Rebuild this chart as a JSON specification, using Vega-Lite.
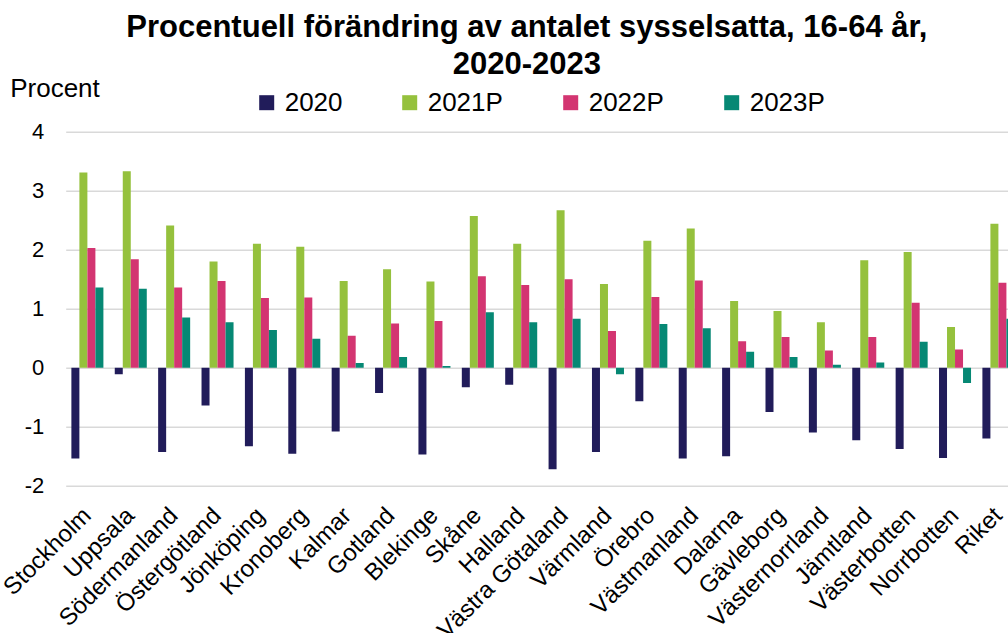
{
  "$schema": "https://vega.github.io/schema/vega-lite/v6.json",
  "autosize": {"type": "none"},
  "width": 942.3,
  "height": 354,
  "padding": {"left": 65.7, "top": 131.7, "right": 0, "bottom": 147.3},
  "background": "white",
  "config": {"view": {"stroke": null}, "font": "Liberation Sans"},
  "title": {
    "text": ["Procentuell förändring av antalet sysselsatta, 16-64 år,", "2020-2023"],
    "fontSize": 31,
    "fontWeight": "bold",
    "font": "Liberation Sans",
    "color": "#000000",
    "anchor": "middle",
    "frame": "group",
    "lineHeight": 37,
    "baseline": "alphabetic",
    "dx": -10,
    "dy": 39,
    "offset": 10
  },
  "data": {
    "values": [
      {"region": "Stockholm", "series": "2020", "value": -1.54},
      {"region": "Stockholm", "series": "2021P", "value": 3.31},
      {"region": "Stockholm", "series": "2022P", "value": 2.03},
      {"region": "Stockholm", "series": "2023P", "value": 1.36},
      {"region": "Uppsala", "series": "2020", "value": -0.11},
      {"region": "Uppsala", "series": "2021P", "value": 3.33},
      {"region": "Uppsala", "series": "2022P", "value": 1.84},
      {"region": "Uppsala", "series": "2023P", "value": 1.34},
      {"region": "Södermanland", "series": "2020", "value": -1.43},
      {"region": "Södermanland", "series": "2021P", "value": 2.41},
      {"region": "Södermanland", "series": "2022P", "value": 1.36},
      {"region": "Södermanland", "series": "2023P", "value": 0.85},
      {"region": "Östergötland", "series": "2020", "value": -0.64},
      {"region": "Östergötland", "series": "2021P", "value": 1.8},
      {"region": "Östergötland", "series": "2022P", "value": 1.47},
      {"region": "Östergötland", "series": "2023P", "value": 0.77},
      {"region": "Jönköping", "series": "2020", "value": -1.33},
      {"region": "Jönköping", "series": "2021P", "value": 2.1},
      {"region": "Jönköping", "series": "2022P", "value": 1.18},
      {"region": "Jönköping", "series": "2023P", "value": 0.64},
      {"region": "Kronoberg", "series": "2020", "value": -1.46},
      {"region": "Kronoberg", "series": "2021P", "value": 2.05},
      {"region": "Kronoberg", "series": "2022P", "value": 1.19},
      {"region": "Kronoberg", "series": "2023P", "value": 0.49},
      {"region": "Kalmar", "series": "2020", "value": -1.08},
      {"region": "Kalmar", "series": "2021P", "value": 1.47},
      {"region": "Kalmar", "series": "2022P", "value": 0.54},
      {"region": "Kalmar", "series": "2023P", "value": 0.08},
      {"region": "Gotland", "series": "2020", "value": -0.43},
      {"region": "Gotland", "series": "2021P", "value": 1.67},
      {"region": "Gotland", "series": "2022P", "value": 0.75},
      {"region": "Gotland", "series": "2023P", "value": 0.18},
      {"region": "Blekinge", "series": "2020", "value": -1.47},
      {"region": "Blekinge", "series": "2021P", "value": 1.46},
      {"region": "Blekinge", "series": "2022P", "value": 0.79},
      {"region": "Blekinge", "series": "2023P", "value": 0.03},
      {"region": "Skåne", "series": "2020", "value": -0.33},
      {"region": "Skåne", "series": "2021P", "value": 2.57},
      {"region": "Skåne", "series": "2022P", "value": 1.55},
      {"region": "Skåne", "series": "2023P", "value": 0.94},
      {"region": "Halland", "series": "2020", "value": -0.29},
      {"region": "Halland", "series": "2021P", "value": 2.1},
      {"region": "Halland", "series": "2022P", "value": 1.4},
      {"region": "Halland", "series": "2023P", "value": 0.77},
      {"region": "Västra Götaland", "series": "2020", "value": -1.72},
      {"region": "Västra Götaland", "series": "2021P", "value": 2.67},
      {"region": "Västra Götaland", "series": "2022P", "value": 1.5},
      {"region": "Västra Götaland", "series": "2023P", "value": 0.83},
      {"region": "Värmland", "series": "2020", "value": -1.43},
      {"region": "Värmland", "series": "2021P", "value": 1.42},
      {"region": "Värmland", "series": "2022P", "value": 0.62},
      {"region": "Värmland", "series": "2023P", "value": -0.11},
      {"region": "Örebro", "series": "2020", "value": -0.57},
      {"region": "Örebro", "series": "2021P", "value": 2.15},
      {"region": "Örebro", "series": "2022P", "value": 1.2},
      {"region": "Örebro", "series": "2023P", "value": 0.74},
      {"region": "Västmanland", "series": "2020", "value": -1.54},
      {"region": "Västmanland", "series": "2021P", "value": 2.36},
      {"region": "Västmanland", "series": "2022P", "value": 1.48},
      {"region": "Västmanland", "series": "2023P", "value": 0.67},
      {"region": "Dalarna", "series": "2020", "value": -1.5},
      {"region": "Dalarna", "series": "2021P", "value": 1.13},
      {"region": "Dalarna", "series": "2022P", "value": 0.45},
      {"region": "Dalarna", "series": "2023P", "value": 0.27},
      {"region": "Gävleborg", "series": "2020", "value": -0.75},
      {"region": "Gävleborg", "series": "2021P", "value": 0.96},
      {"region": "Gävleborg", "series": "2022P", "value": 0.52},
      {"region": "Gävleborg", "series": "2023P", "value": 0.18},
      {"region": "Västernorrland", "series": "2020", "value": -1.1},
      {"region": "Västernorrland", "series": "2021P", "value": 0.77},
      {"region": "Västernorrland", "series": "2022P", "value": 0.29},
      {"region": "Västernorrland", "series": "2023P", "value": 0.05},
      {"region": "Jämtland", "series": "2020", "value": -1.23},
      {"region": "Jämtland", "series": "2021P", "value": 1.82},
      {"region": "Jämtland", "series": "2022P", "value": 0.52},
      {"region": "Jämtland", "series": "2023P", "value": 0.09},
      {"region": "Västerbotten", "series": "2020", "value": -1.38},
      {"region": "Västerbotten", "series": "2021P", "value": 1.96},
      {"region": "Västerbotten", "series": "2022P", "value": 1.1},
      {"region": "Västerbotten", "series": "2023P", "value": 0.44},
      {"region": "Norrbotten", "series": "2020", "value": -1.53},
      {"region": "Norrbotten", "series": "2021P", "value": 0.69},
      {"region": "Norrbotten", "series": "2022P", "value": 0.31},
      {"region": "Norrbotten", "series": "2023P", "value": -0.26},
      {"region": "Riket", "series": "2020", "value": -1.2},
      {"region": "Riket", "series": "2021P", "value": 2.44},
      {"region": "Riket", "series": "2022P", "value": 1.44},
      {"region": "Riket", "series": "2023P", "value": 0.83}
    ]
  },
  "mark": {"type": "bar", "clip": true},
  "encoding": {
    "x": {
      "field": "region",
      "type": "nominal",
      "sort": null,
      "scale": {"range": [0, 954.4], "paddingInner": 0.262, "paddingOuter": 0.131},
      "axis": {
        "title": null,
        "domain": false,
        "ticks": false,
        "labelAngle": -45,
        "labelAlign": "right",
        "labelBaseline": "middle",
        "labelPadding": 26,
        "labelFontSize": 24,
        "labelColor": "#000000",
        "labelLimit": 300,
        "labelOverlap": false,
        "labelFont": "Liberation Sans"
      }
    },
    "xOffset": {
      "field": "series",
      "type": "nominal",
      "sort": ["2020", "2021P", "2022P", "2023P"],
      "scale": {"paddingInner": 0, "paddingOuter": 0}
    },
    "y": {
      "field": "value",
      "type": "quantitative",
      "scale": {"domain": [-2, 4], "nice": false},
      "axis": {
        "values": [-2, -1, 0, 1, 2, 3, 4],
        "labelExpr": "toString(datum.value)",
        "domain": false,
        "ticks": false,
        "grid": true,
        "gridColor": "#d9d9d9",
        "gridWidth": 1.5,
        "labelFontSize": 22,
        "labelColor": "#000000",
        "labelPadding": 22,
        "labelFont": "Liberation Sans",
        "title": "Procent",
        "titleAngle": 0,
        "titleAlign": "left",
        "titleBaseline": "alphabetic",
        "titleX": -56,
        "titleY": -35,
        "titleFontSize": 26,
        "titleFontWeight": "normal",
        "titleColor": "#000000",
        "titleFont": "Liberation Sans"
      }
    },
    "color": {
      "field": "series",
      "type": "nominal",
      "scale": {
        "domain": ["2020", "2021P", "2022P", "2023P"],
        "range": ["#211C5A", "#95C13D", "#D33571", "#068874"]
      },
      "legend": {
        "title": null,
        "orient": "none",
        "direction": "horizontal",
        "legendX": 188,
        "legendY": -42,
        "symbolType": "square",
        "symbolSize": 225,
        "symbolStrokeWidth": 0,
        "labelFontSize": 26,
        "labelColor": "#000000",
        "labelFont": "Liberation Sans",
        "labelOffset": 5,
        "columnPadding": 54
      }
    }
  }
}
